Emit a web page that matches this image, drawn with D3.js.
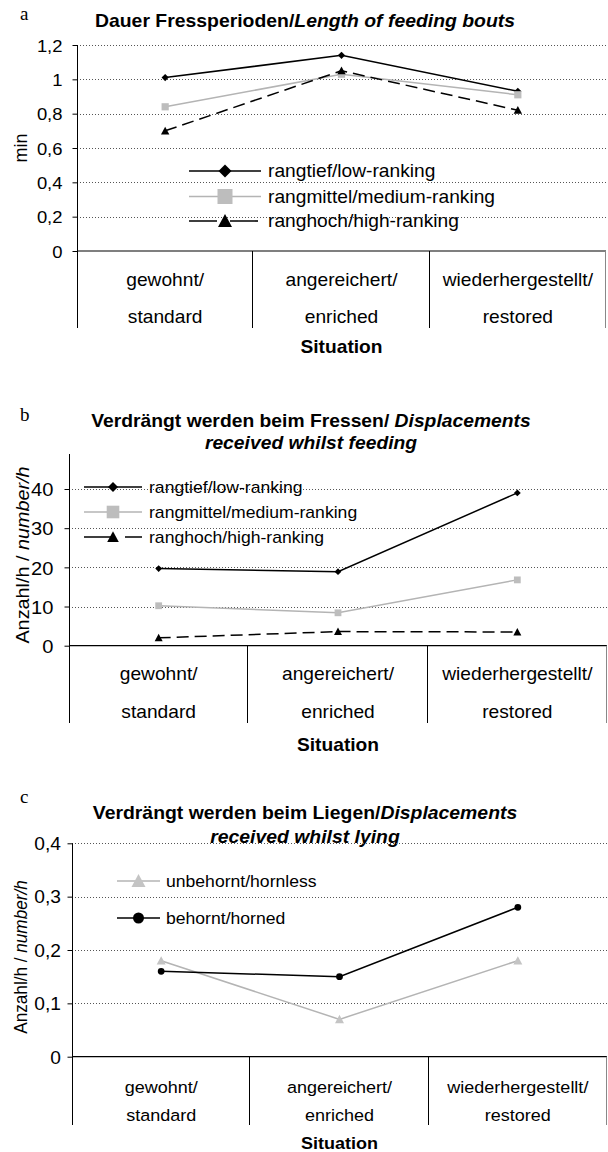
<!DOCTYPE html>
<html>
<head>
<meta charset="utf-8">
<script src="https://cdn.jsdelivr.net/npm/d3@7"></script>
<style>
  body { margin: 0; background: #fff; }
  svg { display: block; }
  text { font-family: "Liberation Sans", Arial, sans-serif; fill: #000; }
</style>
</head>
<body>
<svg id="chart" width="608" height="1152"></svg>
<script>
// ---- data -------------------------------------------------------------
const situations = [
  ["gewohnt/", "standard"],
  ["angereichert/", "enriched"],
  ["wiederhergestellt/", "restored"]
];

// a: length of feeding bouts (min)
const boutLow    = [1.01, 1.14, 0.93];
const boutMedium = [0.84, 1.03, 0.91];
const boutHigh   = [0.70, 1.05, 0.82];
const boutTicks  = [0, 0.2, 0.4, 0.6, 0.8, 1, 1.2];

// b: displacements received whilst feeding (number/h)
const feedLow    = [19.7, 18.9, 39.0];
const feedMedium = [10.2, 8.4, 16.8];
const feedHigh   = [2.0, 3.6, 3.5];
const feedTicks  = [0, 10, 20, 30, 40];

// c: displacements received whilst lying (number/h)
const lyingHornless = [0.18, 0.07, 0.18];
const lyingHorned   = [0.16, 0.15, 0.28];
const lyingTicks    = [0, 0.1, 0.2, 0.3, 0.4];

const rankNames = ["rangtief/low-ranking", "rangmittel/medium-ranking", "ranghoch/high-ranking"];
const hornNames = ["unbehornt/hornless", "behornt/horned"];

// ---- helpers ----------------------------------------------------------
const SX = 1.06;               // slight horizontal widening of the lettering
const svg = d3.select("#chart");
const decimalComma = v => String(v).replace(".", ",");

const markerPath = {
  diamond: r => `M0,${-r}L${r},0L0,${r}L${-r},0Z`,
  square: r => `M${-r},${-r}H${r}V${r}H${-r}Z`,
  triangle: r => `M0,${-r}L${r},${r * 0.85}L${-r},${r * 0.85}Z`,
  circle: r => `M${r},0A${r},${r} 0 1,1 ${-r},0A${r},${r} 0 1,1 ${r},0Z`
};

const styleLow    = { color: "#000", fill: "#000", dash: null, marker: "diamond" };
const styleMedium = { color: "#b4b4b4", fill: "#bdbdbd", dash: null, marker: "square" };
const styleHigh   = { color: "#000", fill: "#000", dash: "12,6", legendDash: "28,13", marker: "triangle" };
const styleHornless = { color: "#b4b4b4", fill: "#c4c4c4", dash: null, marker: "triangle" };
const styleHorned   = { color: "#000", fill: "#000", dash: null, marker: "circle" };

function label(g, x, y, str, size, opts = {}) {
  const t = g.append("text")
    .attr("transform", `translate(${x},${y}) scale(${SX},1)`)
    .attr("text-anchor", opts.anchor || "middle")
    .attr("dy", "0.35em")
    .style("font-size", size + "px");
  if (opts.bold) t.style("font-weight", "bold");
  t.text(str);
  return t;
}

function richLine(g, x, y, parts, size) {
  const t = g.append("text")
    .attr("transform", `translate(${x},${y}) scale(${SX},1)`)
    .attr("text-anchor", "middle")
    .attr("dy", "0.35em")
    .style("font-size", size + "px")
    .style("font-weight", "bold");
  parts.forEach(([s, italic]) => {
    t.append("tspan").style("font-style", italic ? "italic" : "normal").text(s);
  });
  return t;
}

function drawPanel(cfg) {
  const g = svg.append("g");
  const x = d3.scaleBand().domain(d3.range(situations.length)).range([cfg.left, cfg.right]);
  const y = d3.scaleLinear().domain(cfg.domain).range([cfg.base, cfg.top]);
  const cx = i => x(i) + x.bandwidth() / 2;

  // panel letter
  g.append("text")
    .attr("x", cfg.letter[1]).attr("y", cfg.letter[2])
    .style("font-family", '"Liberation Serif", "Times New Roman", serif')
    .style("font-size", "19px")
    .text(cfg.letter[0]);

  // title
  cfg.title.forEach((parts, i) => richLine(g, cfg.titleX, cfg.titleY[i], parts, cfg.titleSize));

  // dotted gridlines
  g.selectAll("line.grid")
    .data(cfg.ticks.filter(t => t > 0))
    .join("line")
    .attr("class", "grid")
    .attr("x1", cfg.left).attr("x2", cfg.right)
    .attr("y1", d => Math.round(y(d)) + 0.5).attr("y2", d => Math.round(y(d)) + 0.5)
    .attr("stroke", "#555").attr("stroke-width", 1).attr("stroke-dasharray", "1,2");

  // value axis
  const axis = d3.axisLeft(y)
    .tickValues(cfg.ticks)
    .tickSize(5)
    .tickSizeOuter(0)
    .tickFormat(decimalComma);
  const ag = g.append("g").attr("transform", `translate(${cfg.left + 0.5},0)`).call(axis);
  ag.select(".domain").remove();
  ag.selectAll(".tick line").attr("stroke", "#000");
  ag.selectAll(".tick text")
    .attr("x", null).attr("dy", "0.35em")
    .attr("transform", `translate(${-5 - cfg.tickGap},0) scale(${SX},1)`)
    .attr("fill", "#000")
    .style("font-family", '"Liberation Sans", Arial, sans-serif')
    .style("font-size", cfg.tickSize + "px");
  g.append("line")
    .attr("x1", cfg.left + 0.5).attr("x2", cfg.left + 0.5)
    .attr("y1", cfg.axisTop).attr("y2", cfg.catBottom)
    .attr("stroke", "#000").attr("stroke-width", 1);

  // category axis: baseline, band separators, two-line labels
  g.append("line")
    .attr("x1", cfg.left).attr("x2", cfg.right)
    .attr("y1", y(0)).attr("y2", y(0))
    .attr("stroke", "#000").attr("stroke-width", 1.2);
  g.selectAll("line.sep")
    .data(d3.range(1, situations.length + 1))
    .join("line")
    .attr("class", "sep")
    .attr("x1", i => Math.round(x(i - 1) + x.bandwidth()) - 0.5)
    .attr("x2", i => Math.round(x(i - 1) + x.bandwidth()) - 0.5)
    .attr("y1", y(0)).attr("y2", cfg.catBottom)
    .attr("stroke", i => i === situations.length ? "#888" : "#000").attr("stroke-width", 1);
  situations.forEach((pair, i) => {
    label(g, cx(i), cfg.catY[0], pair[0], cfg.catSize);
    label(g, cx(i), cfg.catY[1], pair[1], cfg.catSize);
  });
  label(g, (cfg.left + cfg.right) / 2, cfg.situationY, "Situation", cfg.situationSize, { bold: true });

  // rotated value-axis title
  const yt = g.append("text")
    .attr("transform", `translate(${cfg.yTitle.x},${cfg.yTitle.y}) rotate(-90) scale(${cfg.yTitle.stretch},${SX})`)
    .attr("text-anchor", "middle")
    .attr("dy", "0.35em")
    .style("font-size", cfg.yTitle.size + "px");
  cfg.yTitle.parts.forEach(([s, italic]) => {
    yt.append("tspan").style("font-style", italic ? "italic" : "normal").text(s);
  });

  // series lines and markers
  const line = d3.line().x((d, i) => cx(i)).y(d => y(d));
  cfg.series.forEach(s => {
    g.append("path")
      .attr("d", line(s.values))
      .attr("fill", "none")
      .attr("stroke", s.style.color)
      .attr("stroke-width", 1.5)
      .attr("stroke-dasharray", s.style.dash);
    g.selectAll(null)
      .data(s.values)
      .join("path")
      .attr("transform", (d, i) => `translate(${cx(i)},${y(d)})`)
      .attr("d", markerPath[s.style.marker](s.plotSize))
      .attr("fill", s.style.fill);
  });

  // legend
  cfg.series.forEach((s, i) => {
    const ly = cfg.legend.rows[i];
    const [x0, x1] = cfg.legend.line;
    g.append("line")
      .attr("x1", x0).attr("x2", x1).attr("y1", ly).attr("y2", ly)
      .attr("stroke", s.style.color).attr("stroke-width", 1.6)
      .attr("stroke-dasharray", s.style.legendDash || null);
    g.append("path")
      .attr("transform", `translate(${(x0 + x1) / 2},${ly})`)
      .attr("d", markerPath[s.style.marker](s.legendSize))
      .attr("fill", s.style.fill);
    label(g, cfg.legend.textX, ly, s.name, cfg.legend.size, { anchor: "start" });
  });
}

// ---- panel a ----------------------------------------------------------
drawPanel({
  letter: ["a", 20, 20],
  title: [[["Dauer Fressperioden/", false], ["Length of feeding bouts", true]]],
  titleX: 305, titleY: [21], titleSize: 18.3,
  left: 77, right: 606, base: 251, top: 45, domain: [0, 1.2], axisTop: 45,
  ticks: boutTicks, tickSize: 17.4, tickGap: 10,
  catBottom: 328, catY: [280, 317], catSize: 18.1, situationY: 347, situationSize: 18.1,
  yTitle: { x: 20, y: 148, size: 18, stretch: 1.0, parts: [["min", false]] },
  series: [
    { name: rankNames[0], values: boutLow, style: styleLow, plotSize: 3.6, legendSize: 6.5 },
    { name: rankNames[1], values: boutMedium, style: styleMedium, plotSize: 3.6, legendSize: 7.5 },
    { name: rankNames[2], values: boutHigh, style: styleHigh, plotSize: 4.2, legendSize: 7 }
  ],
  legend: { line: [189, 261], textX: 268, rows: [171, 196.5, 221], size: 18.1 }
});

// ---- panel b ----------------------------------------------------------
drawPanel({
  letter: ["b", 20, 421],
  title: [
    [["Verdrängt werden beim Fressen/ ", false], ["Displacements", true]],
    [["received whilst feeding", true]]
  ],
  titleX: 311, titleY: [421, 443], titleSize: 18.2,
  left: 69, right: 607, base: 645.7, top: 489, domain: [0, 40], axisTop: 454,
  ticks: feedTicks, tickSize: 19, tickGap: 11,
  catBottom: 723, catY: [674, 712], catSize: 18.1, situationY: 745, situationSize: 18.1,
  yTitle: { x: 22, y: 555, size: 18, stretch: 1.1, parts: [["Anzahl/h / ", false], ["number/h", true]] },
  series: [
    { name: rankNames[0], values: feedLow, style: styleLow, plotSize: 3.4, legendSize: 5 },
    { name: rankNames[1], values: feedMedium, style: styleMedium, plotSize: 3.4, legendSize: 6.3 },
    { name: rankNames[2], values: feedHigh, style: styleHigh, plotSize: 4, legendSize: 5.8 }
  ],
  legend: { line: [84, 142], textX: 149, rows: [487, 512, 537], size: 16.6 }
});

// ---- panel c ----------------------------------------------------------
drawPanel({
  letter: ["c", 20, 803],
  title: [
    [["Verdrängt werden beim Liegen/", false], ["Displacements", true]],
    [["received whilst lying", true]]
  ],
  titleX: 305, titleY: [813, 837], titleSize: 18.3,
  left: 72, right: 607, base: 1056.7, top: 843.3, domain: [0, 0.4], axisTop: 843.3,
  ticks: lyingTicks, tickSize: 18.1, tickGap: 6.5,
  catBottom: 1125, catY: [1087, 1115], catSize: 17, situationY: 1143, situationSize: 17,
  yTitle: { x: 21, y: 957, size: 16.5, stretch: 1.04, parts: [["Anzahl/h / ", false], ["number/h", true]] },
  series: [
    { name: hornNames[0], values: lyingHornless, style: styleHornless, plotSize: 4.5, legendSize: 7 },
    { name: hornNames[1], values: lyingHorned, style: styleHorned, plotSize: 3.4, legendSize: 5.5 }
  ],
  legend: { line: [117, 160], textX: 166, rows: [881, 918], size: 16.6 }
});
</script>
</body>
</html>
